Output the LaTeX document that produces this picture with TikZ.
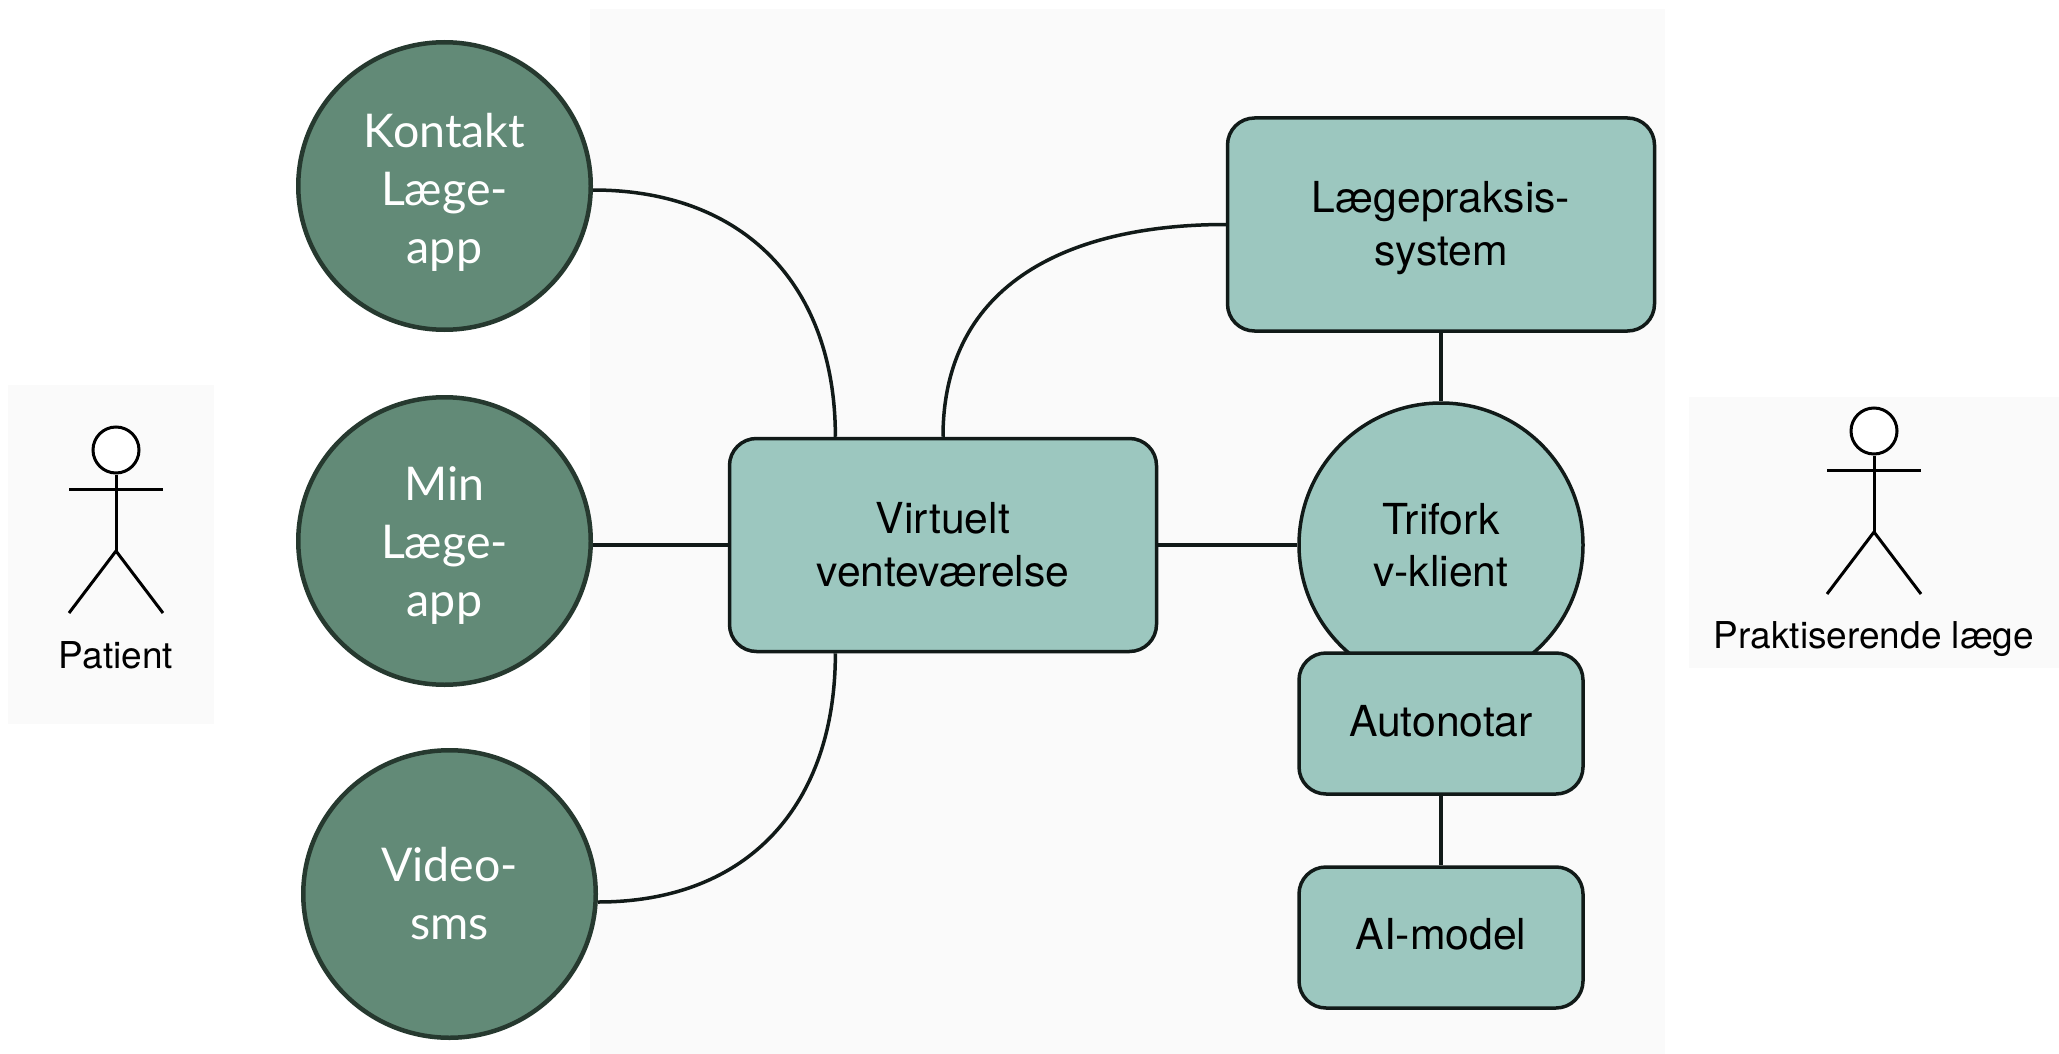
\documentclass[tikz,border=0pt]{standalone}
\usepackage{fontspec}
\setmainfont{TeX Gyre Heros}
\newfontfamily\appfont{Lato}
\usetikzlibrary{calc}
\usetikzlibrary{shapes.geometric}
\definecolor{panelgrey}{HTML}{FAFAFA}
\definecolor{appgreen}{HTML}{628A77}
\definecolor{appline}{HTML}{26392F}
\definecolor{boxgreen}{HTML}{9CC7BF}
\definecolor{boxline}{HTML}{111A18}
\tikzset{
    appnode/.style={ellipse, draw=appline, fill=appgreen, line width=4.5pt, minimum width=292.5pt, minimum height=287.5pt, inner sep=0pt,
        text=white, align=center, font=\appfont\fontsize{46.5}{58}\selectfont},
    boxnode/.style={rectangle, rounded corners=27pt, draw=boxline, fill=boxgreen, line width=3.5pt, inner sep=0pt,
        align=center, font=\fontsize{42.7}{52.5}\selectfont},
    roundnode/.style={circle, draw=boxline, fill=boxgreen, line width=3.5pt, minimum size=284pt, inner sep=0pt,
        align=center, font=\fontsize{42.7}{52.5}\selectfont},
    wire/.style={line width=3.5pt, draw=boxline},
    actorlabel/.style={inner sep=0pt, font=\fontsize{37}{37}\selectfont}
}
\newcommand{\panel}[4]{ \fill[panelgrey] ( #1 , #2 ) rectangle ( #3 , #4 );}
% height and depth to push a label down or up in its node
\newcommand{\topgap}[1]{\rule{0pt}{#1}}
\newcommand{\bottomgap}[1]{\rule[-#1]{0pt}{#1}}
% centre x, head y, name of the figure
\newcommand{\actor}[3]{
    \node[circle, draw, fill=white, line width=3pt, minimum size=46pt, inner sep=0pt] (#3head) at (#1,#2) {};
    \coordinate (#3neck) at (#1,#2+63);
    \coordinate (#3hip) at (#1,#2+101);
    \draw[line width=3pt] (#3head.south) -- (#3hip);
    \draw[line width=3pt] ($(#3neck)+(-47,-24)$) -- ($(#3neck)+(47,-24)$);
    \draw[line width=3pt] ($(#3hip)+(-47,62)$) -- (#3hip) -- ($(#3hip)+(47,62)$);
}

\begin{document}
\begin{tikzpicture}[x=1pt,y=-1pt]
    \useasboundingbox (0,0) rectangle (2059,1054);

    % backgrounds
    \panel{590}{9}{1665}{1054}
    \panel{8}{385}{214}{724}
    \panel{1689}{397}{2059}{668}

    % actors
    \actor{116}{450}{patient}
    \node[actorlabel] (patientlabel) at (116,655) {Patient};
    \actor{1874}{431}{doctor}
    \node[actorlabel] (doctorlabel) at (1874,639) {Praktiserende læge};

    % apps
    \node[appnode] (kontakt) at (444.5,186) {\topgap{47pt}Kontakt\\Læge-\\app};
    \node[appnode] (minapp) at (444.5,541) {\topgap{43pt}Min\\Læge-\\app};
    \node[appnode] (video) at (449.5,894) {Video-\\sms};

    % boxes
    \node[boxnode, minimum width=427pt, minimum height=213pt] (virtuelt) at (943,545) {Virtuelt\\venteværelse};
    \node[boxnode, minimum width=427pt, minimum height=213pt] (praksis) at (1441,224.5) {\topgap{38pt}Lægepraksis-\\system};
    \node[roundnode] (trifork) at (1441,545) {Trifork\\v-klient};
    \node[boxnode, minimum width=284pt, minimum height=141pt] (autonotar) at (1441,723.5) {Autonotar\bottomgap{5pt}};
    \node[boxnode, minimum width=284pt, minimum height=141pt] (aimodel) at (1441,937.5) {AI-model\bottomgap{7pt}};

    % connectors
    \coordinate (kontaktout) at ($(kontakt.east)+(0,4)$);
    \coordinate (videoout) at ($(video.east)+(0,8)$);
    \coordinate (virtuelttop) at ($(virtuelt.north west)!0.25!(virtuelt.north east)$);
    \coordinate (virtueltbottom) at ($(virtuelt.south west)!0.25!(virtuelt.south east)$);
    \draw[wire] (kontaktout) to[out=0, in=90, looseness=1.12] (virtuelttop);
    \draw[wire] (videoout) to[out=0, in=-90, looseness=1.12] (virtueltbottom);
    \draw[wire] (virtuelt.north) to[out=90, in=180, looseness=1.12] (praksis.west);
    \draw[wire] (minapp.east |- virtuelt.west) -- (virtuelt.west);
    \draw[wire] (virtuelt.east) -- (trifork.west);
    \draw[wire] (praksis.south) -- (trifork.north);
    \draw[wire] (autonotar.south) -- (aimodel.north);
\end{tikzpicture}
\end{document}
